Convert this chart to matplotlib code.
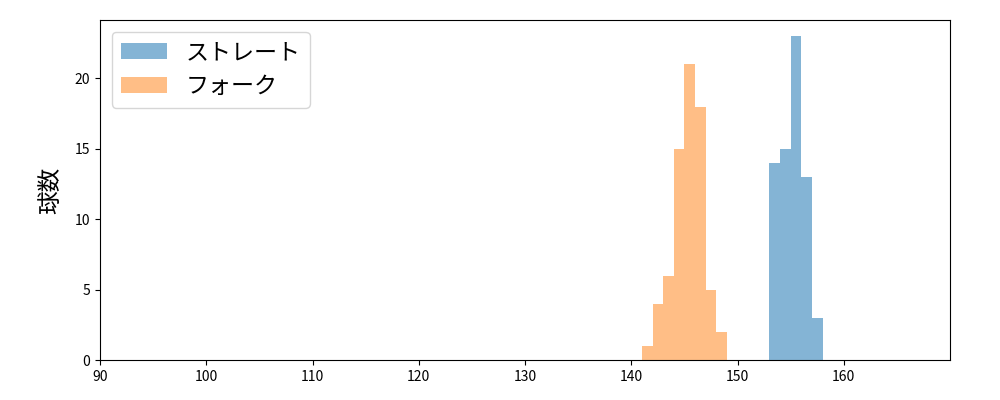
import matplotlib
matplotlib.use('Agg')
import matplotlib.pyplot as plt
import numpy as np

plt.rcParams['font.family'] = ['Noto Sans CJK JP', 'DejaVu Sans']

# bin left edges (km/h) and pitch counts
straight_bins = [153, 154, 155, 156, 157]
straight_counts = [14, 15, 23, 13, 3]
fork_bins = [141, 142, 143, 144, 145, 146, 147, 148]
fork_counts = [1, 4, 6, 15, 21, 18, 5, 2]
xticks = [90, 100, 110, 120, 130, 140, 150, 160]

fig = plt.figure(figsize=(10, 4), dpi=100)
ax = fig.add_axes([0.1, 0.1, 0.85, 0.85])

edges_s = np.append(straight_bins, straight_bins[-1] + 1)
edges_f = np.append(fork_bins, fork_bins[-1] + 1)
ax.hist(straight_bins, bins=edges_s, weights=straight_counts, color='C0', alpha=0.55, label='ストレート')
ax.hist(fork_bins, bins=edges_f, weights=fork_counts, color='C1', alpha=0.5, label='フォーク')

ax.set_xlim(90, 170)
ax.set_xticks(xticks)
ax.set_ylabel('球数', fontsize=17, labelpad=9)
ax.legend(loc='upper left', fontsize=16.6)

fig.savefig('out.png')
